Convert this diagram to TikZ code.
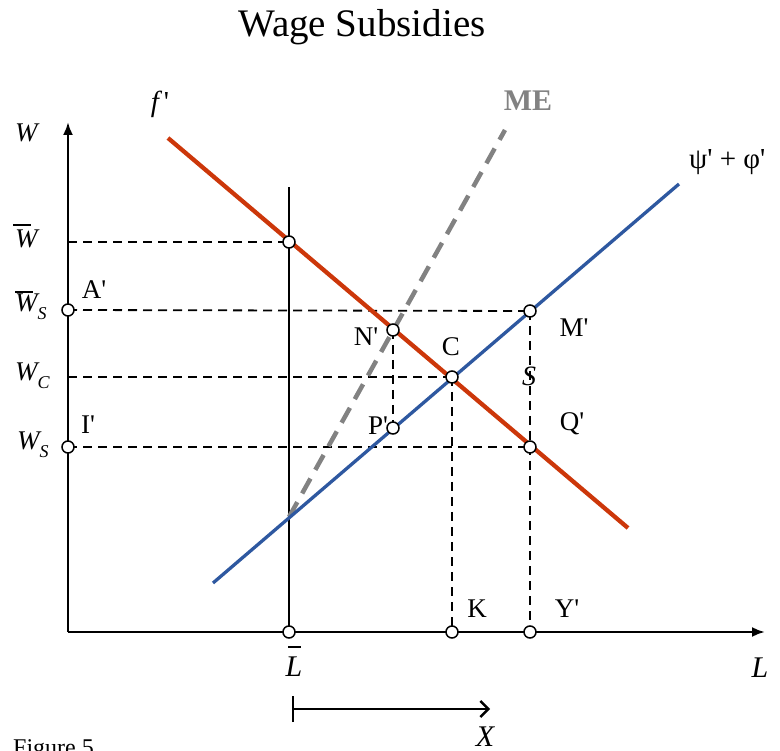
\documentclass[tikz,border=0pt]{standalone}
\usepackage{fontspec}
\setmainfont{Liberation Serif}[Ligatures=TeXOff]
\usetikzlibrary{arrows.meta}
\definecolor{redline}{RGB}{204,55,10}
\definecolor{blueline}{RGB}{46,88,160}
\definecolor{graydash}{RGB}{130,130,130}
\newcommand{\fs}[1]{\fontsize{#1}{#1}\selectfont}
\begin{document}
\begin{tikzpicture}[x=1pt,y=-1pt,
  pt/.style={circle,draw=black,fill=white,line width=1.5pt,inner sep=0pt,minimum size=12pt},
  axis/.style={line width=2.4pt,-{Latex[length=13pt,width=10pt]}},
  guide/.style={line width=1.8pt,dash pattern=on 9pt off 6pt},
  lbl/.style={font=\fs{27},inner sep=0pt},
  axlbl/.style={font=\fs{27}\itshape,inner sep=0pt,anchor=base west},
  barline/.style={line width=1.8pt}]
\useasboundingbox (0,0) rectangle (780,751);
% key coordinates
\coordinate (O) at (68,632);
\coordinate (Ytop) at (68,122);
\coordinate (Xend) at (765,632);
\coordinate (Ltop) at (289,187);
\coordinate (pWbar) at (289,242);
\coordinate (pA) at (68,310);
\coordinate (pI) at (68,447);
\coordinate (pN) at (393,330);
\coordinate (pC) at (452,377);
\coordinate (pP) at (393,428);
\coordinate (pM) at (530,311);
\coordinate (pQ) at (530,447);
\coordinate (pL) at (289,632);
\coordinate (pK) at (452,632);
\coordinate (pY) at (530,632);
\coordinate (aW) at (68,242);
\coordinate (aC) at (68,377);
\coordinate (r1) at (168,138);
\coordinate (r2) at (628,528);
\coordinate (b1) at (213,583);
\coordinate (b2) at (679,184);
\coordinate (m1) at (289,517);
\coordinate (m2) at (505,130);
\coordinate (xa) at (292,709);
\coordinate (xb) at (490,709);
% title
\node[font=\fs{39},inner sep=0pt] (title) at (362,27) {Wage Subsidies};
% dashed guides
\draw[guide] (aW) -- (pWbar);
\draw[guide] (pA) -- (pM);
\draw[guide] (aC) -- (pC);
\draw[guide] (pI) -- (pQ);
\draw[guide] (pN) -- (pP);
\draw[guide] (pC) -- (pK);
\draw[guide] (pM) -- (pY);
% axes
\draw[axis] (O) -- (Ytop);
\draw[axis] (O) -- (Xend);
\draw[line width=2.2pt] (pL) -- (Ltop);
% curves
\draw[graydash,line width=4.5pt,dash pattern=on 17pt off 10pt] (m1) -- (m2);
\draw[blueline,line width=3.3pt] (b1) -- (b2);
\draw[redline,line width=4.3pt] (r1) -- (r2);
% points
\foreach \p in {pWbar,pA,pI,pN,pC,pP,pM,pQ,pL,pK,pY}
  \node[pt] (n\p) at (\p) {};
% curve labels
\node[font=\fs{29}\itshape,inner sep=0pt] (lf) at (160,104) {f\,\upshape'};
\node[font=\fs{30}\bfseries,text=graydash,inner sep=0pt] (lME) at (528,101) {ME};
\node[font=\fs{29},inner sep=0pt,anchor=west] (lpsi) at (689,162) {ψ' + φ'};
% axis labels
\node[axlbl] (lW) at (15,142) {W};
\node[axlbl] (lWbar) at (15,248) {W};
\draw[barline] (13,225) -- (31,225);
\node[axlbl] (lWSbar) at (15,312) {W\raisebox{-8pt}{\fs{18}S}};
\draw[barline] (15,292) -- (33,292);
\node[axlbl] (lWC) at (15,381) {W\raisebox{-8pt}{\fs{18}C}};
\node[axlbl] (lWS) at (17,450) {W\raisebox{-8pt}{\fs{18}S}};
\node[font=\fs{30}\itshape,inner sep=0pt] (lLbar) at (294,667) {L};
\draw[barline] (288,647) -- (301,647);
\node[font=\fs{30}\itshape,inner sep=0pt] (lL) at (760,668) {L};
% point labels
\node[lbl] (lA) at (94,290) {A'};
\node[lbl] (lI) at (88,425) {I'};
\node[lbl] (lN) at (366,337) {N'};
\node[lbl] (lCC) at (451,347) {C};
\node[lbl] (lM) at (574,328) {M'};
\node[lbl,font=\fs{28}\itshape] (lS) at (529,376) {S};
\node[lbl] (lP) at (378,426) {P'};
\node[lbl] (lQ) at (572,424) {Q'};
\node[lbl] (lK) at (477,609) {K};
\node[lbl] (lY) at (567,609) {Y'};
% X arrow
\draw[line width=2.4pt,{Bar[width=26pt]}-{Straight Barb[length=8pt,width=16pt,line width=2.4pt]}] (xa) -- (xb);
\node[font=\fs{30}\itshape,inner sep=0pt] (lX) at (485,737) {X};
\node[font=\fs{24},inner sep=0pt,anchor=base west] (fig) at (13,755) {Figure 5};
\end{tikzpicture}
\end{document}
